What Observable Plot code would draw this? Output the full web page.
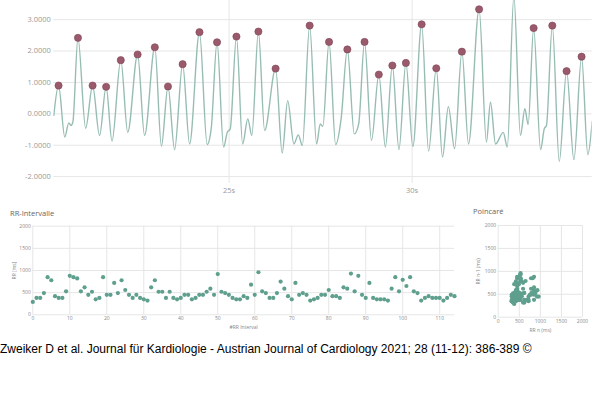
<!DOCTYPE html>
<html>
<head>
<meta charset="utf-8">
<script src="https://cdn.jsdelivr.net/npm/d3@7"></script>
<script src="https://cdn.jsdelivr.net/npm/@observablehq/plot@0.6"></script>
<style>
  html, body { margin: 0; padding: 0; background: #fff; }
  #wrap { position: relative; width: 600px; height: 397px; background: #fff; overflow: hidden; }
  #wrap svg { position: absolute; overflow: visible; }
  .title { position: absolute; font-family: "Open Sans", sans-serif; font-size: 7.5px; color: #666; white-space: nowrap; }
  #caption { position: absolute; left: 0px; top: 342px; font-family: "Liberation Sans", Arial, sans-serif; font-size: 12px; color: #000; white-space: nowrap; }
</style>
</head>
<body>
<div id="wrap">
  <div class="title" id="t1" style="left:10px; top:208px;">RR-Intervalle</div>
  <div class="title" id="t2" style="left:473px; top:206px;">Poincaré</div>
  <div id="caption">Zweiker D et al. Journal für Kardiologie - Austrian Journal of Cardiology 2021; 28 (11-12): 386-389 ©</div>
</div>
<script>
// ECG-like signal keypoints (time in s, amplitude)
const signalT = [20.21,20.34,20.51,20.62,20.68,20.73,20.87,21.08,21.27,21.46,21.64,21.80,22.04,22.23,22.50,22.69,22.97,23.15,23.33,23.51,23.73,23.92,24.19,24.40,24.51,24.67,24.85,24.95,25.03,25.20,25.37,25.51,25.62,25.80,25.97,26.27,26.45,26.60,26.77,26.89,27.00,27.20,27.39,27.49,27.56,27.73,27.91,28.06,28.23,28.42,28.54,28.70,28.89,29.09,29.27,29.46,29.64,29.83,30.02,30.26,30.45,30.66,30.83,30.99,31.16,31.36,31.54,31.83,32.03,32.14,32.28,32.49,32.60,32.78,32.96,33.08,33.17,33.32,33.51,33.61,33.67,33.83,34.02,34.22,34.42,34.63,34.80,34.92];
const signalV = [-0.05,0.90,-0.74,-0.29,-0.37,-0.27,2.42,-0.46,0.90,-0.69,0.86,-0.87,1.71,-0.59,1.89,-0.69,2.12,-1.03,0.87,-1.14,1.58,-0.96,2.60,-0.98,-0.48,2.28,-1.06,-0.59,-0.48,2.46,-0.96,-0.16,-0.69,2.62,-0.53,1.44,-1.25,0.42,-0.96,-0.67,-1.01,2.81,-0.96,-0.32,-0.40,2.29,-0.98,-0.16,2.05,-0.64,-0.32,2.29,-0.85,1.25,-1.06,1.54,-1.14,1.62,-1.04,2.85,-1.19,1.45,-1.38,0.23,-1.11,1.98,-0.96,3.33,-0.90,0.37,-0.96,-0.59,-1.06,3.75,-0.69,0.16,-0.34,2.73,-1.14,-0.48,-0.37,2.81,-1.52,1.36,-1.46,1.82,-1.30,-0.24];

// Detected R peaks (marked)
const peakT = [20.34,20.87,21.27,21.64,22.04,22.50,22.97,23.33,23.73,24.19,24.67,25.20,25.80,26.27,27.20,27.73,28.23,28.70,29.09,29.46,29.83,30.26,30.66,31.36,31.83,33.32,33.83,34.22,34.63];
const peakV = [0.90,2.42,0.90,0.86,1.71,1.89,2.12,0.87,1.58,2.60,2.28,2.46,2.62,1.44,2.81,2.29,2.05,2.29,1.25,1.54,1.62,2.85,1.45,1.98,3.33,2.73,2.81,1.36,1.82];

// RR intervals (ms)
const rrValues = [290,380,380,490,850,780,420,380,380,530,
  880,850,820,530,620,450,520,350,380,850,
  450,450,720,490,780,560,450,380,450,380,
  350,320,620,780,520,520,380,520,380,350,
  380,450,450,350,380,450,450,520,590,450,
  920,520,490,450,380,350,350,420,380,680,
  450,960,530,490,380,380,490,750,590,420,
  350,720,450,490,450,320,350,380,450,450,
  560,420,420,380,620,590,930,530,880,450,
  380,720,380,350,350,350,320,590,850,530,
  790,650,850,530,490,320,380,420,380,380,
  380,320,380,450,420];

const yTicksTop = [-2,-1,0,1,2,3];
const xTicksTop = [25,30];
const rrXTicks = [0,10,20,30,40,50,60,70,80,90,100,110];
const msTicks = [0,500,1000,1500,2000];

const signal = signalT.map((t,i) => ({t, v: signalV[i]}));
const peaks = peakT.map((t,i) => ({t, v: peakV[i]}));
const rr = rrValues.map((v,i) => ({i, v}));
const poinc = rrValues.slice(1).map((v,i) => ({x: v, y: rrValues[i]}));

const gridColor = "#e6e6e6";
const plain = d => String(d);
const wrap = document.getElementById("wrap");

// Top: signal
const sigPlot = Plot.plot({
  width: 600, height: 200,
  marginLeft: 53.3, marginRight: 8.3, marginTop: 0, marginBottom: 17,
  style: {fontFamily: "Open Sans", fontSize: "7.5px", color: "#999", background: "transparent"},
  x: {domain: [20.21, 34.92], ticks: xTicksTop, tickFormat: d => d + "s", tickSize: 0, tickPadding: 4, label: null},
  y: {domain: [-2.22, 3.61], ticks: yTicksTop, tickFormat: d => d.toFixed(4), tickSize: 0, tickPadding: 3, label: null},
  marks: [
    Plot.gridY(yTicksTop, {stroke: gridColor, strokeOpacity: 1}),
    Plot.gridX(xTicksTop, {stroke: gridColor, strokeOpacity: 1}),
    Plot.line(signal, {x: "t", y: "v", curve: "monotone-x", stroke: "#97bdb3", strokeWidth: 1.4, clip: true}),
    Plot.dot(peaks, {x: "t", y: "v", r: 3.6, fill: "#9a5a6b", stroke: "#7d4455", strokeWidth: 0.6})
  ]
});
sigPlot.style.left = "0px"; sigPlot.style.top = "0px";
wrap.appendChild(sigPlot);

// Bottom-left: RR intervals
const rrPlot = Plot.plot({
  width: 470, height: 140,
  marginLeft: 32.3, marginRight: 16, marginTop: 25.7, marginBottom: 25.7,
  style: {fontFamily: "Open Sans", fontSize: "5px", color: "#888", background: "transparent"},
  x: {domain: [0, 114], ticks: rrXTicks, tickFormat: plain, tickSize: 0, tickPadding: 2, label: "#RR Interval", labelAnchor: "center", labelArrow: "none", labelOffset: 14},
  y: {domain: [0, 2000], ticks: msTicks, tickFormat: plain, tickSize: 0, tickPadding: 2, label: "RR [ms]", labelAnchor: "center", labelArrow: "none", labelOffset: 20},
  marks: [
    Plot.gridY(msTicks, {stroke: gridColor, strokeOpacity: 1}),
    Plot.gridX(rrXTicks, {stroke: gridColor, strokeOpacity: 1}),
    Plot.dot(rr, {x: "i", y: "v", r: 2.1, fill: "#5f9f8d", stroke: "none"})
  ]
});
rrPlot.style.left = "0px"; rrPlot.style.top = "200px";
wrap.appendChild(rrPlot);

// Bottom-right: Poincaré
const pPlot = Plot.plot({
  width: 140, height: 140,
  marginLeft: 37.7, marginRight: 18, marginTop: 25, marginBottom: 23.3,
  style: {fontFamily: "Open Sans", fontSize: "5px", color: "#888", background: "transparent"},
  x: {domain: [0, 2000], ticks: msTicks, tickFormat: plain, tickSize: 0, tickPadding: 2, label: "RR n (ms)", labelAnchor: "center", labelArrow: "none", labelOffset: 15},
  y: {domain: [0, 2000], ticks: msTicks, tickFormat: plain, tickSize: 0, tickPadding: 2, label: "RR n-1 (ms)", labelAnchor: "center", labelArrow: "none", labelOffset: 22},
  marks: [
    Plot.gridY(msTicks, {stroke: gridColor, strokeOpacity: 1}),
    Plot.gridX(msTicks, {stroke: gridColor, strokeOpacity: 1}),
    Plot.dot(poinc, {x: "x", y: "y", r: 2.1, fill: "#5f9f8d", stroke: "none"})
  ]
});
pPlot.style.left = "460px"; pPlot.style.top = "200px";
wrap.appendChild(pPlot);
</script>
</body>
</html>
